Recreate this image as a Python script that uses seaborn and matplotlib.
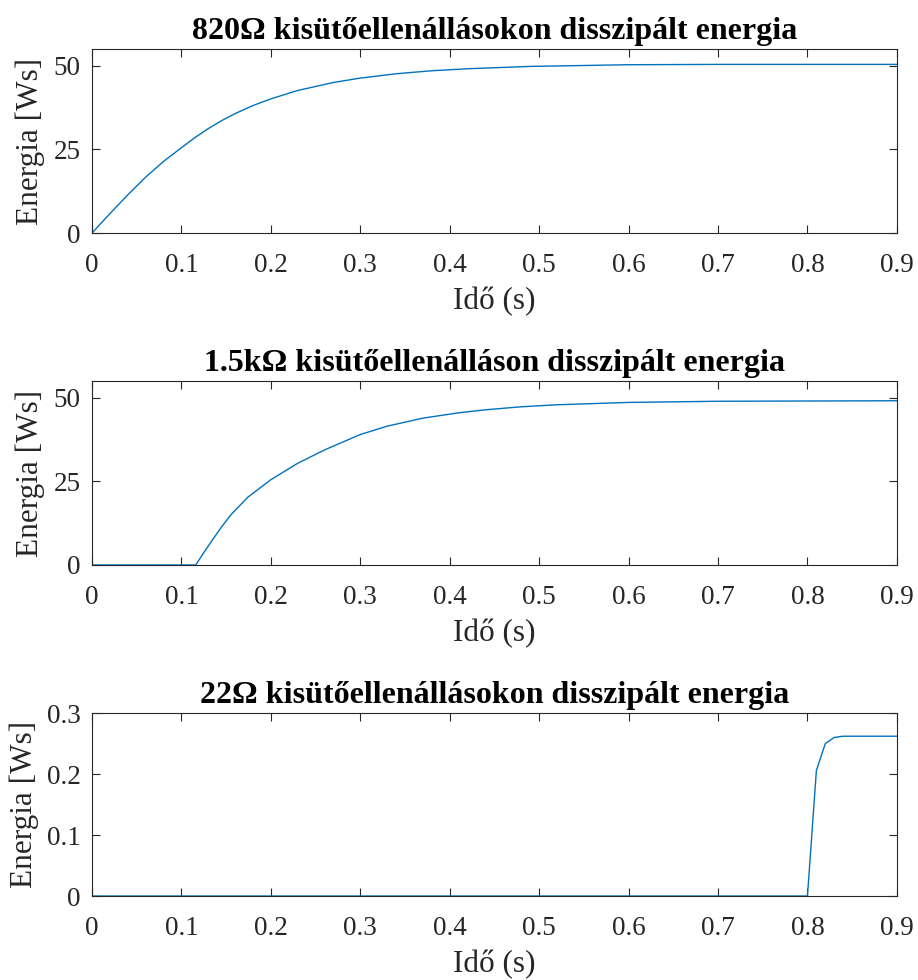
import matplotlib
matplotlib.use("Agg")
import matplotlib.pyplot as plt
import seaborn as sns
import pandas as pd

# Dissipated energy in the discharge resistors
t_820 = [0.0, 0.02, 0.04, 0.06, 0.08, 0.1, 0.115, 0.13, 0.145, 0.16, 0.18,
         0.2, 0.23, 0.27, 0.3, 0.34, 0.38, 0.42, 0.49, 0.6, 0.7, 0.9]
e_820 = [0.0, 5.8, 11.4, 16.7, 21.4, 25.5, 28.5, 31.2, 33.6, 35.7, 38.1,
         40.1, 42.6, 45.0, 46.3, 47.6, 48.5, 49.1, 49.8, 50.3, 50.4, 50.4]

t_1k5 = [0.0, 0.116, 0.125, 0.136, 0.145, 0.155, 0.174, 0.2, 0.23, 0.26, 0.3,
         0.33, 0.37, 0.41, 0.44, 0.48, 0.52, 0.6, 0.7, 0.9]
e_1k5 = [0.0, 0.0, 3.7, 8.0, 11.4, 14.9, 20.2, 25.5, 30.4, 34.4, 39.0,
         41.5, 43.9, 45.5, 46.4, 47.3, 47.9, 48.6, 48.95, 49.1]

t_22 = [0.0, 0.8, 0.81, 0.82, 0.83, 0.84, 0.9]
e_22 = [0.0, 0.0, 0.206, 0.250, 0.260, 0.262, 0.262]

titles = ["820Ω kisütőellenállásokon disszipált energia",
          "1.5kΩ kisütőellenálláson disszipált energia",
          "22Ω kisütőellenállásokon disszipált energia"]
y_ticks = [[0, 25, 50], [0, 25, 50], [0, 0.1, 0.2, 0.3]]
y_tick_labels = [["0", "25", "50"], ["0", "25", "50"], ["0", "0.1", "0.2", "0.3"]]
y_limits = [(0, 55), (0, 55), (0, 0.3)]
x_ticks = [0, 0.1, 0.2, 0.3, 0.4, 0.5, 0.6, 0.7, 0.8, 0.9]
x_tick_labels = ["0", "0.1", "0.2", "0.3", "0.4", "0.5", "0.6", "0.7", "0.8", "0.9"]

sns.set_style("ticks")
plt.rcParams["font.family"] = ["Liberation Serif", "DejaVu Serif"]

fig = plt.figure(figsize=(9.18, 9.8), dpi=100)
positions = [
    [0.1002, 0.7622, 0.8768, 0.1878],
    [0.1002, 0.4235, 0.8768, 0.1877],
    [0.1002, 0.0857, 0.8768, 0.1867],
]
series = [(t_820, e_820), (t_1k5, e_1k5), (t_22, e_22)]
edge = "#262626"

for i, (pos, (t, e)) in enumerate(zip(positions, series)):
    ax = fig.add_axes(pos)
    df = pd.DataFrame({"t": t, "E": e})
    sns.lineplot(data=df, x="t", y="E", ax=ax, color="#0072BD", linewidth=1.0)
    ax.set_xlim(0, 0.9)
    ax.set_ylim(*y_limits[i])
    ax.set_xticks(x_ticks)
    ax.set_xticklabels(x_tick_labels)
    ax.set_yticks(y_ticks[i])
    ax.set_yticklabels(y_tick_labels[i])
    ax.tick_params(direction="in", top=True, right=True, length=6, width=0.8,
                   colors=edge, labelcolor="#262626", labelsize=19.5)
    ax.tick_params(axis="x", pad=14.5)
    ax.tick_params(axis="y", pad=8)
    for s in ax.spines.values():
        s.set_visible(True)
        s.set_color(edge)
        s.set_linewidth(0.8)
    ax.set_xlabel("Idő (s)", fontsize=22.5, color="#262626", labelpad=6)
    ax.set_ylabel("Energia [Ws]", fontsize=22.5, color="#262626", labelpad=6)
    ax.set_title(titles[i], fontsize=23, fontweight="bold", color="black", pad=7)

fig.savefig("out.png", dpi=100)
